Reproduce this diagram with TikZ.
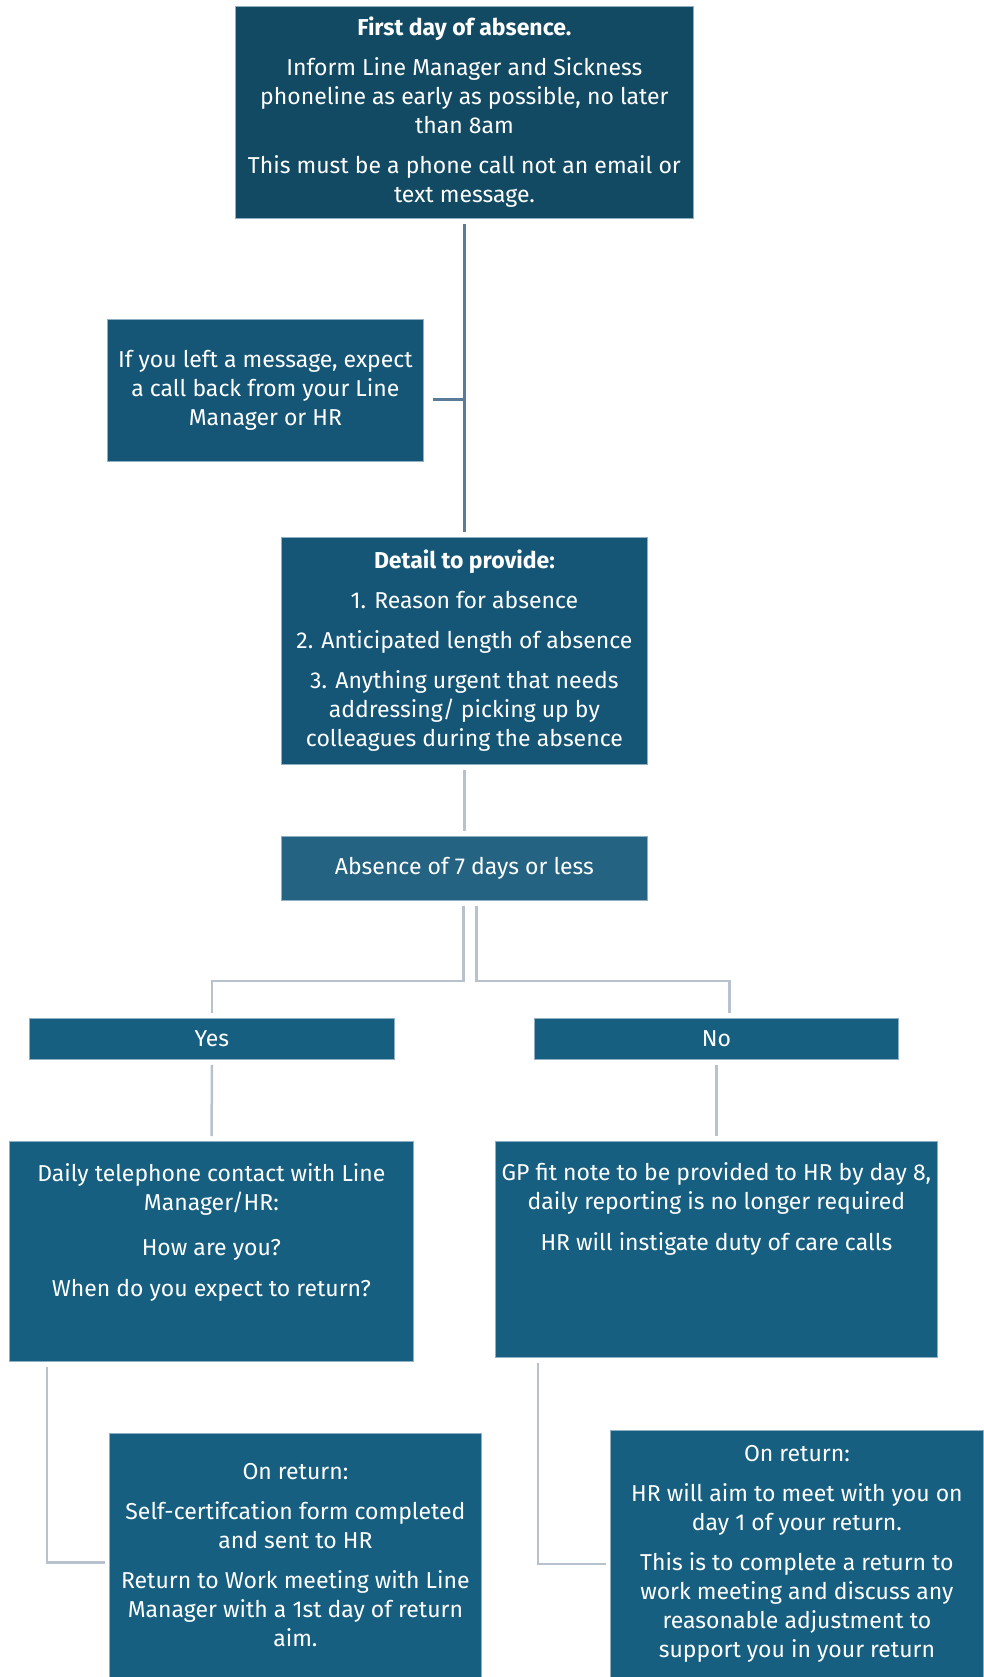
\documentclass[tikz,border=0pt]{standalone}
\usepackage{fontspec}
\setmainfont{Fira Sans}
\usetikzlibrary{positioning}

\definecolor{deepteal}{HTML}{124A63}
\definecolor{midteal}{HTML}{155676}
\definecolor{liteteal}{HTML}{246382}
\definecolor{boxteal}{HTML}{175F80}
\definecolor{rimblue}{HTML}{8EAFC4}
\definecolor{slateline}{HTML}{5B7C99}
\definecolor{paleline}{HTML}{B7C2CC}

\begin{document}
\begin{tikzpicture}[x=1pt,y=-1pt,
   every node/.style={font=\fontsize{23}{29}\selectfont},
   card/.style={draw=rimblue,line width=0.8pt,fill=boxteal,text=white,
     align=center,inner sep=0pt,anchor=north west},
   link/.style={draw=paleline,line width=2.5pt,shorten <=5pt,shorten >=5pt}]
  \useasboundingbox (0,0) rectangle (983,1677);
  % boxes
  \node[card,fill=deepteal,minimum width=458,minimum height=212] (first) at (235,6)
    {\textbf{First day of absence.}\\[11pt]
     Inform Line Manager and Sickness\\phoneline as early as possible, no later\\than 8am\\[11pt]
     This must be a phone call not an email or\\text message.};
  \node[card,fill=midteal,minimum width=316,minimum height=142] (msg) at (107,319)
    {If you left a message, expect\\a call back from your Line\\Manager or HR};
  \node[card,fill=midteal,minimum width=366,minimum height=227] (detail) at (281,537)
    {\textbf{Detail to provide:}\\[11pt]
     1. Reason for absence\\[11pt]
     2. Anticipated length of absence\\[11pt]
     3. Anything urgent that needs\\addressing/ picking up by\\colleagues during the absence};
  \node[card,fill=liteteal,minimum width=366,minimum height=64] (absence) at (281,836)
    {Absence of 7 days or less};
  \node[card,minimum width=365,minimum height=41] (yes) at (29,1018) {Yes};
  \node[card,minimum width=364,minimum height=41] (no) at (534,1018) {No};
  \node[card,minimum width=404,minimum height=220] (daily) at (9,1141)
    {Daily telephone contact with Line\\Manager/HR:\\[16pt]
     How are you?\\[12pt]
     When do you expect to return?\\[14pt]\mbox{}};
  \node[card,minimum width=442,minimum height=216] (gp) at (495,1141)
    {GP fit note to be provided to HR by day 8,\\daily reporting is no longer required\\[12pt]
     HR will instigate duty of care calls\\[56pt]\mbox{}};
  \node[card,minimum width=372,minimum height=244] (retyes) at (109,1433)
    {On return:\\[11pt]
     Self-certifcation form completed\\and sent to HR\\[11pt]
     Return to Work meeting with Line\\Manager with a 1st day of return\\aim.};
  \node[card,minimum width=373,minimum height=247] (retno) at (610,1430)
    {On return:\\[11pt]
     HR will aim to meet with you on\\day 1 of your return.\\[11pt]
     This is to complete a return to\\work meeting and discuss any\\reasonable adjustment to\\support you in your return};
  % connectors
  \draw[link,draw=slateline,line width=3pt] (first) -- (detail);
  \draw[link,draw=slateline,line width=3pt,shorten >=0pt]
    ([xshift=4pt,yshift=-9pt]msg.east) -- ([yshift=-9pt]msg.east -| first.south);
  \draw[link] (detail) -- (absence);
  \draw[link] ([xshift=-1pt]absence.south) -- ++(0,80) -| (yes.north);
  \draw[link] ([xshift=12pt]absence.south) -- ++(0,80) -| ([xshift=13pt]no.north);
  \draw[link] (yes) -- (daily);
  \draw[link] (no) -- (gp);
  \draw[link,shorten >=4pt] ([xshift=38pt]daily.south west) |- ([yshift=-7pt]retyes.west);
  \draw[link,shorten >=4pt] ([xshift=43pt]gp.south west) |- ([yshift=-10pt]retno.west);
\end{tikzpicture}
\end{document}
